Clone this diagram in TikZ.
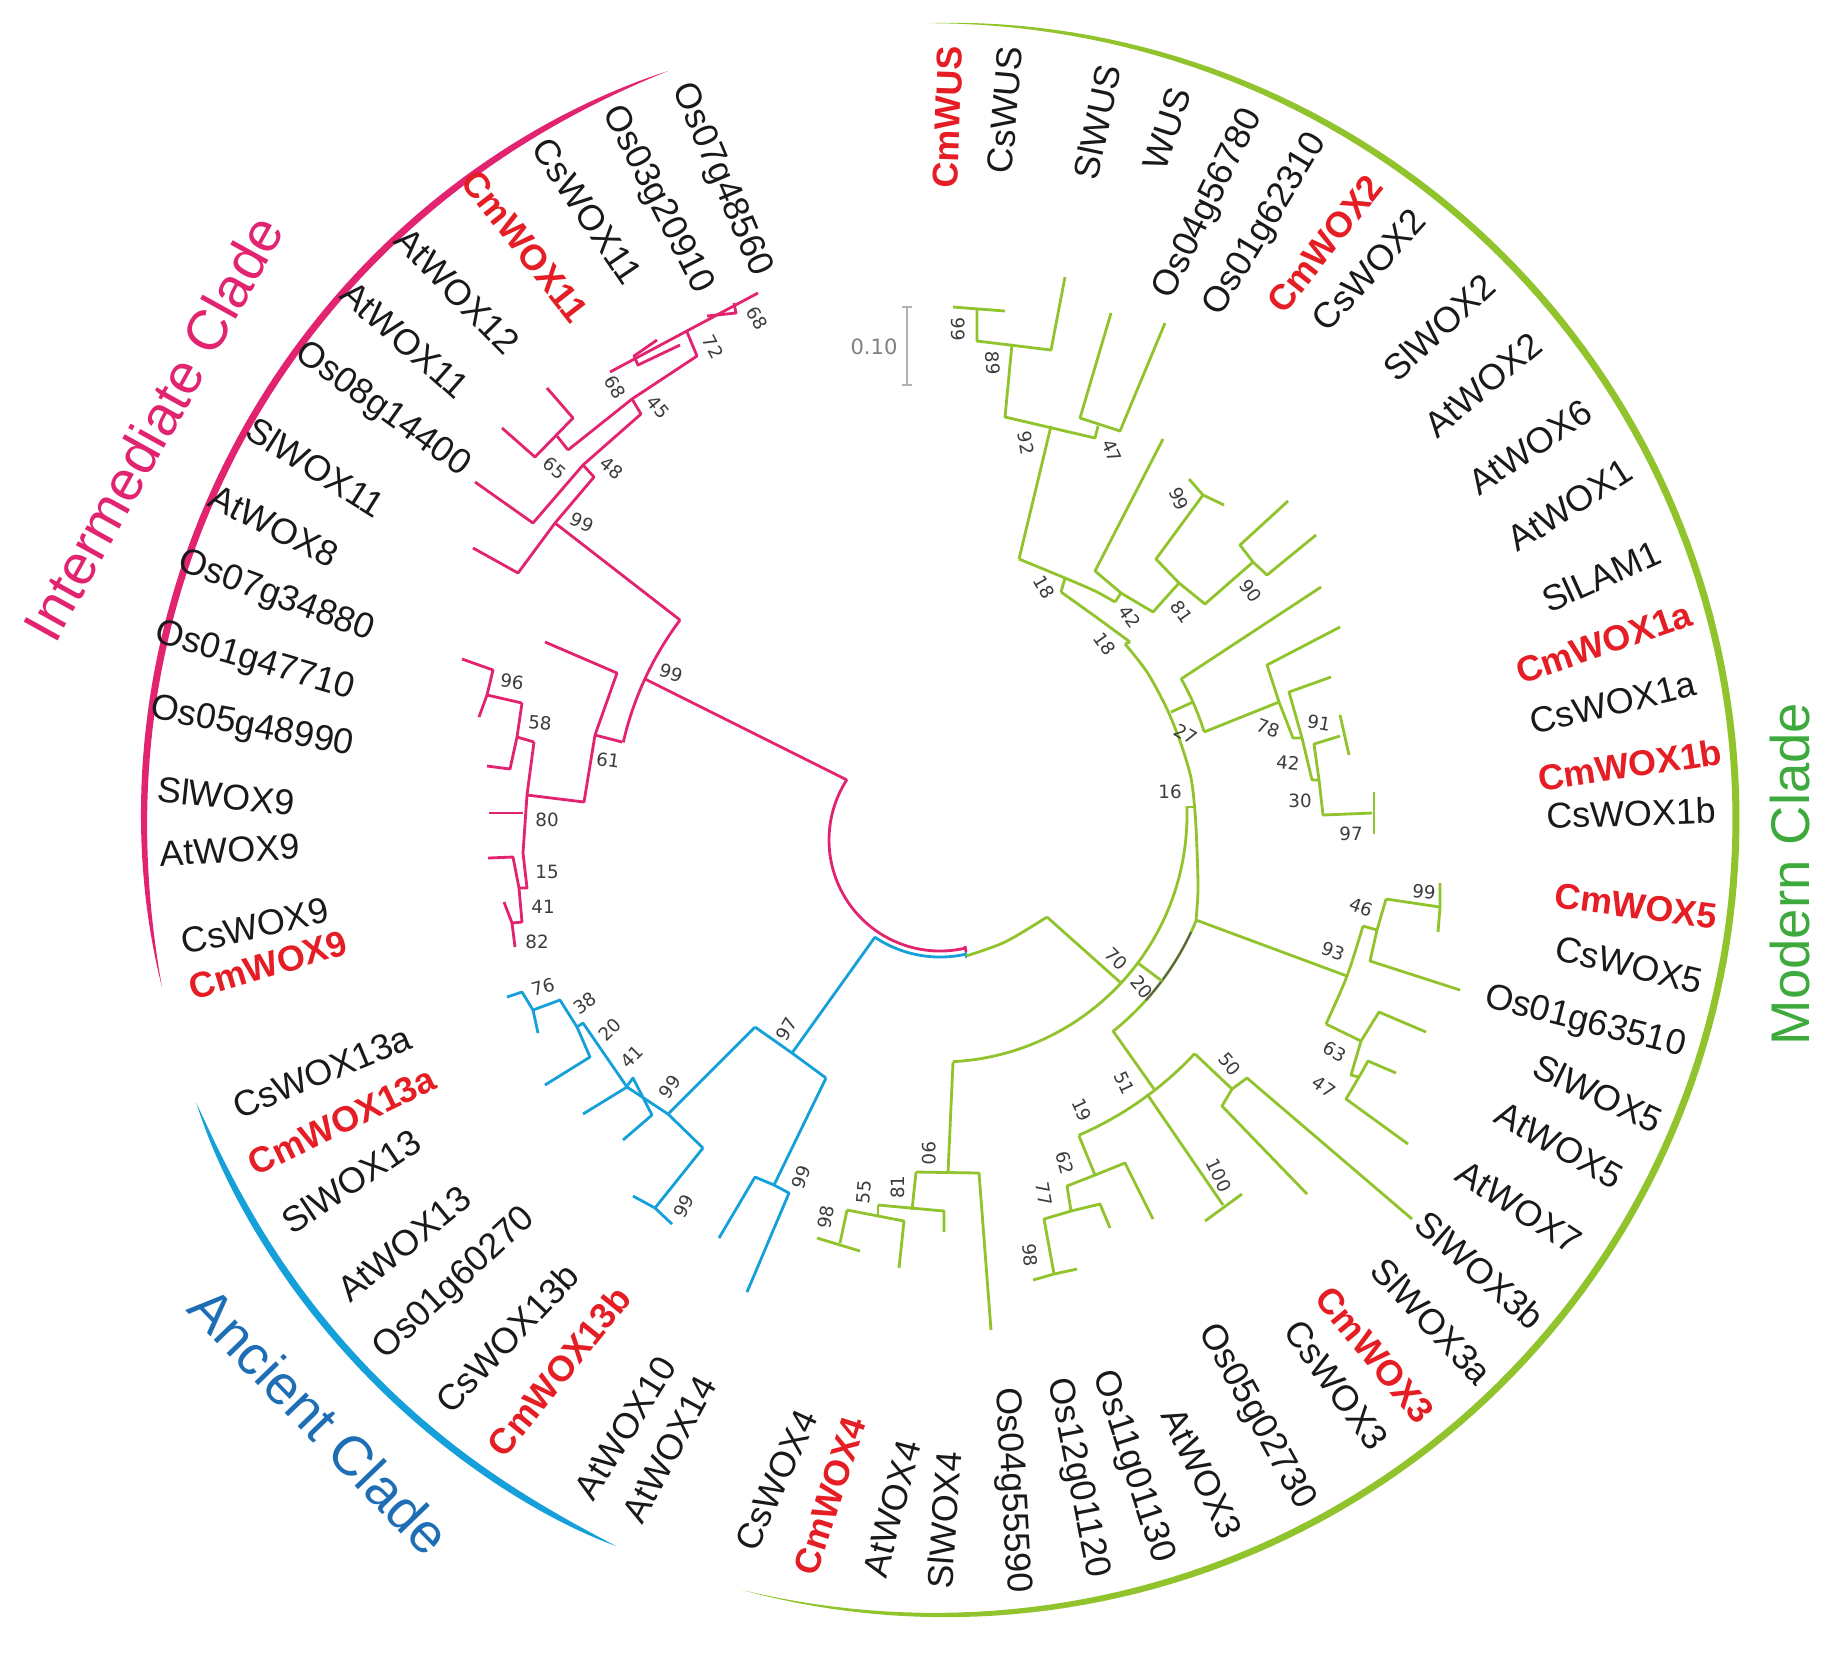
\documentclass[tikz,border=0pt]{standalone}
\usepackage{fontspec}
\setmainfont{Liberation Sans}
\newfontfamily\bsfont{DejaVu Sans}
\definecolor{pinkc}{RGB}{226,35,112}
\definecolor{bluec}{RGB}{22,160,218}
\definecolor{greenc}{RGB}{145,195,45}
\definecolor{redc}{RGB}{228,30,36}
\definecolor{ancientc}{RGB}{30,110,182}
\definecolor{modernc}{RGB}{62,170,62}
\definecolor{numgray}{RGB}{60,60,60}
\definecolor{labblack}{RGB}{25,25,25}
\tikzset{
	pk/.style={draw=pinkc, line width=0.8pt, line join=round},
	bl/.style={draw=bluec, line width=0.8pt, line join=round},
	gr/.style={draw=greenc, line width=0.8pt, line join=round},
	lab/.style={font=\fontsize{10.2}{12}\selectfont, inner sep=0pt, text=labblack},
	cmlab/.style={lab, font=\fontsize{10.2}{12}\selectfont\bfseries, text=redc},
	bs/.style={font=\bsfont\fontsize{5.2}{6}\selectfont, inner sep=0pt, text=numgray},
	declare function={tap(\t)=1-(2*\t-1)*(2*\t-1)*(2*\t-1)*(2*\t-1)*(2*\t-1)*(2*\t-1);}
}
\begin{document}
\begin{tikzpicture}[x={(0.01cm,0)}, y={(0,-0.01cm)}]
	\useasboundingbox (0,0) rectangle (1840,1653);
	\fill[greenc] plot[domain=-104.4:91,samples=150] ({940+(796+3.5*tap((\x+104.4)/195.4))*cos(\x)},{819-(796+3.5*tap((\x+104.4)/195.4))*sin(\x)}) -- plot[domain=91:-104.4,samples=150] ({940+(796-3.5*tap((\x+104.4)/195.4))*cos(\x)},{819-(796-3.5*tap((\x+104.4)/195.4))*sin(\x)}) -- cycle;
	\fill[pinkc] plot[domain=110:192.2,samples=80] ({940+(796+3.5*tap((\x-110)/82.2))*cos(\x)},{819-(796+3.5*tap((\x-110)/82.2))*sin(\x)}) -- plot[domain=192.2:110,samples=80] ({940+(796-3.5*tap((\x-110)/82.2))*cos(\x)},{819-(796-3.5*tap((\x-110)/82.2))*sin(\x)}) -- cycle;
	\fill[bluec] plot[domain=200.9:246,samples=60] ({940+(796+3.5*tap((\x-200.9)/45.1))*cos(\x)},{819-(796+3.5*tap((\x-200.9)/45.1))*sin(\x)}) -- plot[domain=246:200.9,samples=60] ({940+(796-3.5*tap((\x-200.9)/45.1))*cos(\x)},{819-(796-3.5*tap((\x-200.9)/45.1))*sin(\x)}) -- cycle;

	\draw[pk] (758,293) -- (610,372);
	\draw[pk] (734,303) -- (736,313) -- (707,316);
	\draw[pk] (687,332) -- (697,356) -- (632,399) -- (568,450);
	\draw[pk] (657,340) -- (634,356) -- (638,365) -- (680,345);
	\draw[pk] (632,399) -- (641,414) -- (583,465) -- (533,523) -- (475,482);
	\draw[pk] (583,465) -- (594,477) -- (555,523) -- (518,573) -- (473,548);
	\draw[pk] (547,388) -- (573,418) -- (535,457) -- (502,428);
	\draw[pk] (557,436) -- (568,450);
	\draw[pk] (555,523) -- (680,620);
	\draw[pk] plot[domain=143.1:167.1,samples=20] ({940+325*cos(\x)},{815-325*sin(\x)});
	\draw[pk] (645,679) -- (847,780);
	\draw[pk] (545,642) -- (617,673) -- (595,735) -- (584,802) -- (527,795);
	\draw[pk] (595,735) -- (622,742);
	\draw[pk] (534,742) -- (527,795) -- (523,853) -- (527,888) -- (519,888);
	\draw[pk] (534,742) -- (517,737);
	\draw[pk] (522,703) -- (517,737) -- (510,769) -- (487,766);
	\draw[pk] (522,703) -- (487,695);
	\draw[pk] (462,659) -- (493,670) -- (487,695) -- (479,717);
	\draw[pk] (489,813) -- (523,813);
	\draw[pk] (488,858) -- (513,857) -- (519,888) -- (522,922) -- (512,923);
	\draw[pk] (504,902) -- (512,923) -- (515,947);
	\draw[pk] plot[domain=147:283,samples=60] ({940+111*cos(\x)},{840-111*sin(\x)});
	\draw[pk] (965,946) -- (966,952);

	\draw[bl] plot[domain=236:283,samples=30] ({940+117*cos(\x)},{840-117*sin(\x)});
	\draw[bl] (966,952) -- (966,958);
	\draw[bl] (875,937) -- (792,1053);
	\draw[bl] (755,1027) -- (792,1053) -- (826,1078);
	\draw[bl] (755,1027) -- (668,1114);
	\draw[bl] (826,1078) -- (774,1185);
	\draw[bl] (719,1238) -- (755,1177) -- (774,1185) -- (789,1193) -- (747,1292);
	\draw[bl] (507,997) -- (522,992) -- (533,1010) -- (538,1033);
	\draw[bl] (533,1010) -- (560,1000) -- (577,1027) -- (590,1057) -- (545,1085);
	\draw[bl] (577,1027) -- (583,1023) -- (627,1087) -- (668,1114) -- (703,1148);
	\draw[bl] (627,1087) -- (583,1114);
	\draw[bl] (627,1086) -- (633,1078) -- (652,1115) -- (623,1140);
	\draw[bl] (703,1148) -- (655,1208);
	\draw[bl] (633,1196) -- (655,1208) -- (672,1224);

	\draw[gr] plot[smooth] coordinates {(966,956) (1005,942) (1047,917)};
	\draw[gr] (1047,917) -- (1121,983);
	\draw[gr] plot[domain=-87:2,samples=50] ({940+247*cos(\x)},{815-247*sin(\x)});
	\draw[gr] (1187,807) -- (1195,807);
	\draw[gr] plot[smooth] coordinates {(1125,644) (1147,672) (1167,709) (1181,744) (1191,778) (1195,812) (1197,850) (1198,890) (1196,920)};
	\draw[gr] plot[domain=17.5:29.5,samples=15] ({940+277*cos(\x)},{815-277*sin(\x)});
	\draw[gr] (1171,712) -- (1193,702);
	\draw[gr] (1181,679) -- (1321,587);
	\draw[gr] (1204,732) -- (1279,702);
	\draw[gr] (1340,627) -- (1267,665) -- (1279,702) -- (1293,738) -- (1302,738);
	\draw[gr] (1331,677) -- (1289,692) -- (1302,738) -- (1312,780) -- (1319,780);
	\draw[gr] (1340,736) -- (1314,744) -- (1319,780) -- (1323,815) -- (1372,813);
	\draw[gr] (1340,715) -- (1349,755);
	\draw[gr] (1374,792) -- (1374,834);
	\draw[gr] (953,307) -- (1005,311);
	\draw[gr] (977,309) -- (977,341) -- (1051,350) -- (1065,277);
	\draw[gr] (1012,344) -- (1005,417) -- (1095,438) -- (1098,426);
	\draw[gr] (1111,313) -- (1080,418) -- (1120,431) -- (1165,323);
	\draw[gr] (1051,426) -- (1019,559);
	\draw[gr] plot[smooth] coordinates {(1019,559) (1065,578) (1095,591) (1115,602)};
	\draw[gr] (1065,578) -- (1061,592);
	\draw[gr] (1115,602) -- (1121,593);
	\draw[gr] (1163,439) -- (1095,571) -- (1121,593) -- (1153,612) -- (1179,583);
	\draw[gr] (1203,495) -- (1156,559) -- (1179,583) -- (1205,604) -- (1253,562);
	\draw[gr] (1189,479) -- (1203,495) -- (1224,505);
	\draw[gr] (1288,501) -- (1240,545) -- (1253,562) -- (1267,575) -- (1316,535);
	\draw[gr] plot[smooth] coordinates {(1061,592) (1096,617) (1130,642)};
	\draw[gr] (1130,642) -- (1125,644);
	\draw[gr] plot[domain=-51.4:-22.3,samples=25] ({940+277*cos(\x)},{815-277*sin(\x)});
	\draw[gray!70!black, line width=0.5pt] plot[domain=-42:-25,samples=15] ({940+277*cos(\x)},{815-277*sin(\x)});
	\draw[gr] (1138,963) -- (1162,981);
	\draw[gr] (1196,920) -- (1347,976);
	\draw[gr] plot[smooth] coordinates {(1363,926) (1347,976) (1326,1024)};
	\draw[gr] (1363,926) -- (1377,930);
	\draw[gr] (1386,899) -- (1377,930) -- (1370,961) -- (1460,990);
	\draw[gr] (1386,899) -- (1440,907);
	\draw[gr] (1440,883) -- (1440,907) -- (1438,932);
	\draw[gr] (1326,1024) -- (1361,1041);
	\draw[gr] (1426,1032) -- (1379,1012) -- (1361,1041) -- (1351,1075) -- (1359,1077);
	\draw[gr] (1396,1073) -- (1368,1061) -- (1359,1077) -- (1346,1099) -- (1408,1144);
	\draw[gr] (1113,1031) -- (1154,1089);
	\draw[gr] plot[domain=-66.6:-43.1,samples=25] ({940+349*cos(\x)},{815-349*sin(\x)});
	\draw[gr] (1195,1054) -- (1232,1089);
	\draw[gr] (1412,1219) -- (1247,1078) -- (1232,1089) -- (1222,1106) -- (1307,1194);
	\draw[gr] (1147,1094) -- (1223,1205);
	\draw[gr] (1205,1221) -- (1242,1194);
	\draw[gr] (1079,1136) -- (1095,1175);
	\draw[gr] (1153,1219) -- (1125,1163) -- (1095,1175) -- (1067,1186) -- (1071,1211);
	\draw[gr] (1110,1228) -- (1100,1204) -- (1071,1211) -- (1044,1219) -- (1054,1274);
	\draw[gr] (1033,1280) -- (1054,1274) -- (1077,1269);
	\draw[gr] (953,1062) -- (948,1173);
	\draw[gr] (916,1172) -- (979,1173) -- (991,1330);
	\draw[gr] (916,1172) -- (912,1210);
	\draw[gr] (878,1205) -- (944,1211) -- (944,1232);
	\draw[gr] (878,1205) -- (878,1217);
	\draw[gr] (847,1210) -- (904,1221) -- (899,1268);
	\draw[gr] (847,1210) -- (840,1243);
	\draw[gr] (817,1238) -- (860,1251);

	\draw[gray!60, line width=0.7pt] (907,307) -- (907,385);
	\draw[gray!60, line width=0.7pt] (902,307) -- (912,307);
	\draw[gray!60, line width=0.7pt] (902,385) -- (912,385);
	\node[bs, text=gray, font=\bsfont\fontsize{6}{7}\selectfont] (scale) at (874,347) {0.10};

	\node[lab, rotate=-67] (os07g48560) at (721,180) {Os07g48560};
	\node[lab, rotate=-63] (os03g20910) at (657,200) {Os03g20910};
	\node[lab, rotate=-56] (cswox11) at (587,211) {CsWOX11};
	\node[cmlab, rotate=-52] (cmwox11) at (525,246) {CmWOX11};
	\node[lab, rotate=-45.5] (atwox12) at (457,291) {AtWOX12};
	\node[lab, rotate=-41.4] (atwox11) at (405,340) {AtWOX11};
	\node[lab, rotate=-35.6] (os08g14400) at (382,410) {Os08g14400};
	\node[lab, rotate=-32.3] (slwox11) at (316,467) {SlWOX11};
	\node[lab, rotate=-26.8] (atwox8) at (274,526) {AtWOX8};
	\node[lab, rotate=-20.3] (os07g34880) at (276,597) {Os07g34880};
	\node[lab, rotate=-16.3] (os01g47710) at (255,662) {Os01g47710};
	\node[lab, rotate=-10.5] (os05g48990) at (252,728) {Os05g48990};
	\node[lab, rotate=-6] (slwox9) at (226,796) {SlWOX9};
	\node[lab, rotate=3] (atwox9) at (230,850) {AtWOX9};
	\node[lab, rotate=13] (cswox9) at (255,926) {CsWOX9};
	\node[cmlab, rotate=16.7] (cmwox9) at (268,965) {CmWOX9};
	\node[lab, rotate=22.3] (cswox13a) at (322,1072) {CsWOX13a};
	\node[cmlab, rotate=25.8] (cmwox13a) at (342,1121) {CmWOX13a};
	\node[lab, rotate=33.7] (slwox13) at (351,1181) {SlWOX13};
	\node[lab, rotate=39.2] (atwox13) at (404,1244) {AtWOX13};
	\node[lab, rotate=42.8] (os01g60270) at (455,1284) {Os01g60270};
	\node[lab, rotate=46.5] (cswox13b) at (507,1338) {CsWOX13b};
	\node[cmlab, rotate=51.3] (cmwox13b) at (559,1371) {CmWOX13b};
	\node[lab, rotate=58.2] (atwox10) at (625,1428) {AtWOX10};
	\node[lab, rotate=61.7] (atwox14) at (669,1449) {AtWOX14};
	\node[lab, rotate=65.3] (cswox4) at (776,1480) {CsWOX4};
	\node[cmlab, rotate=72] (cmwox4) at (830,1496) {CmWOX4};
	\node[lab, rotate=75.3] (atwox4) at (892,1509) {AtWOX4};
	\node[lab, rotate=86] (slwox4) at (944,1520) {SlWOX4};
	\node[lab, rotate=-86.6] (os04g55590) at (1011,1490) {Os04g55590};
	\node[lab, rotate=-78.9] (os12g01120) at (1077,1478) {Os12g01120};
	\node[lab, rotate=-72.2] (os11g01130) at (1132,1467) {Os11g01130};
	\node[lab, rotate=-64.1] (atwox3) at (1202,1473) {AtWOX3};
	\node[lab, rotate=-61.2] (os05g02730) at (1256,1417) {Os05g02730};
	\node[lab, rotate=-54.2] (cswox3) at (1336,1385) {CsWOX3};
	\node[cmlab, rotate=-50.4] (cmwox3) at (1375,1355) {CmWOX3};
	\node[lab, rotate=-46.8] (slwox3a) at (1432,1321) {SlWOX3a};
	\node[lab, rotate=-41.1] (slwox3b) at (1480,1270) {SlWOX3b};
	\node[lab, rotate=-33] (atwox7) at (1519,1207) {AtWOX7};
	\node[lab, rotate=-29.5] (atwox5) at (1559,1145) {AtWOX5};
	\node[lab, rotate=-25.1] (slwox5) at (1598,1093) {SlWOX5};
	\node[lab, rotate=-14.2] (os01g63510) at (1585,1023) {Os01g63510};
	\node[lab, rotate=-13.3] (cswox5) at (1629,965) {CsWOX5};
	\node[cmlab, rotate=-7.5] (cmwox5) at (1636,906) {CmWOX5};
	\node[lab, rotate=2] (cswox1b) at (1631,813) {CsWOX1b};
	\node[cmlab, rotate=8.6] (cmwox1b) at (1630,765) {CmWOX1b};
	\node[lab, rotate=13.6] (cswox1a) at (1613,703) {CsWOX1a};
	\node[cmlab, rotate=18.9] (cmwox1a) at (1604,643) {CmWOX1a};
	\node[lab, rotate=24.3] (sllam1) at (1601,576) {SlLAM1};
	\node[lab, rotate=32.5] (atwox1) at (1570,505) {AtWOX1};
	\node[lab, rotate=34] (atwox6) at (1530,447) {AtWOX6};
	\node[lab, rotate=39.7] (atwox2) at (1483,385) {AtWOX2};
	\node[lab, rotate=42.8] (slwox2) at (1439,327) {SlWOX2};
	\node[lab, rotate=47.8] (cswox2) at (1369,270) {CsWOX2};
	\node[cmlab, rotate=51.8] (cmwox2) at (1325,244) {CmWOX2};
	\node[lab, rotate=58.9] (os01g62310) at (1266,225) {Os01g62310};
	\node[lab, rotate=64] (os04g56780) at (1209,204) {Os04g56780};
	\node[lab, rotate=72] (wus) at (1167,129) {WUS};
	\node[lab, rotate=78] (slwus) at (1097,122) {SlWUS};
	\node[lab, rotate=85] (cswus) at (1005,110) {CsWUS};
	\node[cmlab, rotate=88] (cmwus) at (948,117) {CmWUS};

	\node[font=\fontsize{16}{18}\selectfont, text=pinkc, rotate=61, inner sep=0pt] (interclade) at (153,428) {Intermediate Clade};
	\node[font=\fontsize{15.8}{18}\selectfont, text=ancientc, rotate=-46, inner sep=0pt] (ancclade) at (320,1421) {Ancient Clade};
	\node[font=\fontsize{15.5}{18}\selectfont, text=modernc, rotate=90, inner sep=0pt] (modclade) at (1790,874) {Modern Clade};

	\node[bs, rotate=-60] (p68a) at (757,318) {68};
	\node[bs, rotate=-62] (p72) at (713,347) {72};
	\node[bs, rotate=-60] (p68b) at (615,387) {68};
	\node[bs, rotate=-50] (p45) at (658,407) {45};
	\node[bs, rotate=-40] (p65) at (555,468) {65};
	\node[bs, rotate=-40] (p48) at (612,468) {48};
	\node[bs, rotate=-25] (p99a) at (582,522) {99};
	\node[bs, rotate=-18] (p99b) at (671,673) {99};
	\node[bs, rotate=-8] (p96) at (512,682) {96};
	\node[bs, rotate=-5] (p58) at (540,723) {58};
	\node[bs, rotate=-8] (p61) at (608,760) {61};
	\node[bs] (p80) at (547,820) {80};
	\node[bs] (p15) at (547,872) {15};
	\node[bs] (p41) at (543,907) {41};
	\node[bs] (p82) at (537,942) {82};
	\node[bs, rotate=15] (b76) at (543,987) {76};
	\node[bs, rotate=35] (b38) at (585,1003) {38};
	\node[bs, rotate=45] (b20) at (610,1030) {20};
	\node[bs, rotate=45] (b41) at (632,1057) {41};
	\node[bs, rotate=55] (b99a) at (670,1087) {99};
	\node[bs, rotate=62] (b99b) at (684,1206) {99};
	\node[bs, rotate=60] (b97) at (787,1029) {97};
	\node[bs, rotate=70] (b99c) at (801,1177) {99};
	\node[bs, rotate=-90] (g99a) at (958,329) {99};
	\node[bs, rotate=-88] (g89) at (993,363) {89};
	\node[bs, rotate=-80] (g92) at (1026,443) {92};
	\node[bs, rotate=-65] (g47a) at (1112,451) {47};
	\node[bs, rotate=-65] (g99b) at (1179,499) {99};
	\node[bs, rotate=-60] (g18a) at (1044,587) {18};
	\node[bs, rotate=-55] (g81a) at (1182,612) {81};
	\node[bs, rotate=-55] (g90a) at (1251,591) {90};
	\node[bs, rotate=-55] (g42a) at (1130,617) {42};
	\node[bs, rotate=-55] (g18b) at (1105,644) {18};
	\node[bs, rotate=-20] (g78) at (1268,728) {78};
	\node[bs, rotate=-10] (g91) at (1319,723) {91};
	\node[bs, rotate=-30] (g27) at (1186,734) {27};
	\node[bs, rotate=-5] (g42b) at (1288,763) {42};
	\node[bs] (g30) at (1300,801) {30};
	\node[bs] (g97) at (1351,834) {97};
	\node[bs] (g16) at (1170,792) {16};
	\node[bs, rotate=-5] (g99c) at (1424,892) {99};
	\node[bs, rotate=-20] (g46) at (1361,907) {46};
	\node[bs, rotate=-20] (g93) at (1333,951) {93};
	\node[bs, rotate=-45] (g70) at (1116,959) {70};
	\node[bs, rotate=-50] (g20) at (1142,987) {20};
	\node[bs, rotate=-30] (g63) at (1335,1052) {63};
	\node[bs, rotate=-35] (g47b) at (1324,1087) {47};
	\node[bs, rotate=-50] (g50) at (1230,1064) {50};
	\node[bs, rotate=-65] (g51) at (1124,1083) {51};
	\node[bs, rotate=-65] (g19) at (1082,1110) {19};
	\node[bs, rotate=-65] (g100) at (1219,1175) {100};
	\node[bs, rotate=-75] (g62) at (1065,1163) {62};
	\node[bs, rotate=-80] (g77) at (1044,1194) {77};
	\node[bs, rotate=-85] (g98a) at (1030,1255) {98};
	\node[bs, rotate=-90] (g90b) at (929,1153) {90};
	\node[bs, rotate=90] (g81b) at (898,1187) {81};
	\node[bs, rotate=85] (g55) at (864,1192) {55};
	\node[bs, rotate=80] (g98b) at (826,1217) {98};
\end{tikzpicture}
\end{document}
